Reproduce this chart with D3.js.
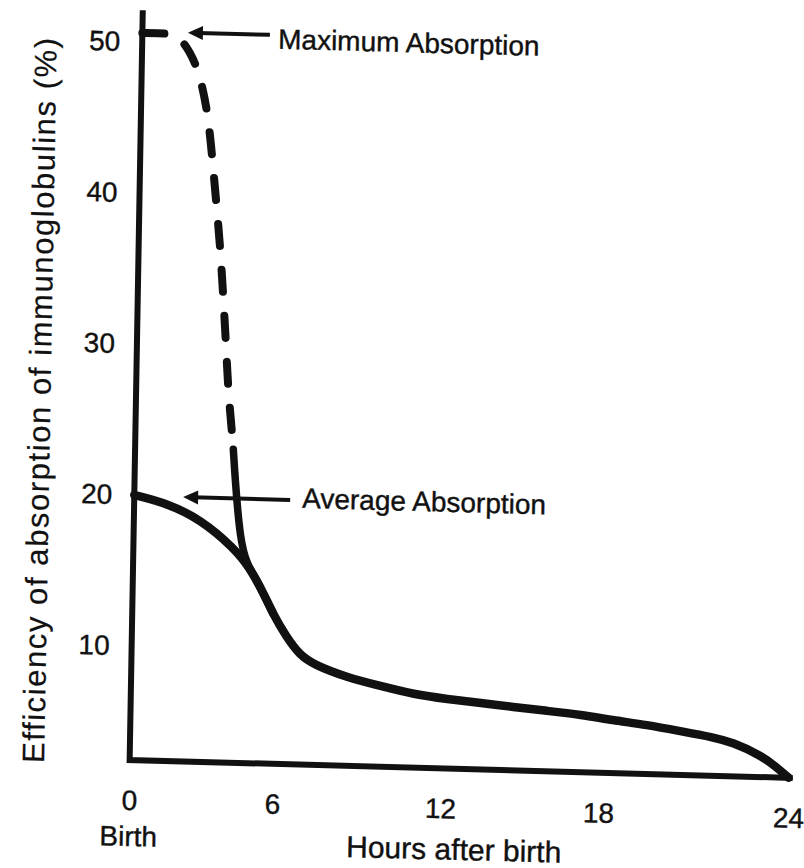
<!DOCTYPE html>
<html><head><meta charset="utf-8">
<script src="https://cdn.jsdelivr.net/npm/d3@7"></script>
<style>
body{margin:0;background:#fff}
text{font-family:"Liberation Sans",Arial,sans-serif;fill:#111;stroke:#111;stroke-width:0.4px}
</style>
</head><body>
<svg id="chart" width="804" height="868"></svg>
<script>
// ---- data ----
const xTicks = [0, 6, 12, 18, 24];
const yTicks = [10, 20, 30, 40, 50];

const avgHours  = [0, 1.4, 2.8, 4.2, 4.9, 5.5, 5.9, 6.4, 6.9, 7.4, 8.6, 9.8, 11.0, 12.2, 13.5, 14.7, 16.0, 17.3, 18.4, 19.5, 20.55, 21.6, 22.2, 23.1, 23.6, 24];
const avgValues = [20, 19.5, 18.5, 16.7, 15.4, 13.7, 12.4, 10.9, 9.7, 9.1, 8.3, 7.8, 7.3, 7.05, 6.85, 6.65, 6.45, 6.25, 5.95, 5.7, 5.35, 5.0, 4.7, 3.9, 3.15, 2.45];

const maxHours  = [0, 1.0, 1.5, 2.3, 2.77, 3.0, 3.21, 3.42, 3.57, 3.73, 3.85, 4.05, 4.12, 4.22, 4.47, 4.78, 5.2, 5.9];
const maxValues = [50.6, 50.6, 50.6, 48.8, 45.8, 42.8, 39.7, 36.6, 33.6, 30.3, 27.3, 24.3, 23.2, 21.2, 17.2, 15.6, 14.6, 12.4];
const dashEndHour = 4.12;   // max curve is dashed up to here, solid after

const axisBaseValue = 2.45, axisTopValue = 52.1;

const annotationTexts = ["Maximum Absorption", "Average Absorption"];
const arrowTipHours = [1.91, 2.05];
const arrowEndHours = [5.35, 6.46];
const arrowValues   = [50.7, 19.95];
const labelHours    = [5.7, 6.89];
const labelValues   = [49.8, 19.45];

// ---- chart ----
const svg = d3.select("#chart");
const ink = "#111";
const fontFamily = '"Liberation Sans",Arial,sans-serif';

// hand-drawn axis: tick marks are unevenly spaced
const x = d3.scaleLinear().domain(xTicks).range([0, 143, 311, 469, 659]);
const y = d3.scaleLinear().domain([0, 50]).range([0, -755]);

// scanned figure is slightly skewed
const g = svg.append("g").attr("transform", "matrix(1,0.027,-0.0175,1,129,797)");

// axes lines
g.append("path")
  .attr("d", `M${x(0)},${y(axisTopValue)}L${x(0)},${y(axisBaseValue)}L${x(24) + 4},${y(axisBaseValue)}`)
  .attr("fill", "none").attr("stroke", ink).attr("stroke-width", 6)
  .attr("stroke-linejoin", "miter");

// y tick labels
const yAxisG = g.append("g")
  .call(d3.axisLeft(y).tickValues(yTicks).tickSize(0).tickPadding(22));
yAxisG.select(".domain").remove();
yAxisG.attr("font-size", 28).attr("font-family", fontFamily);
yAxisG.selectAll("text").attr("fill", ink);

// x tick labels
const xAxisG = g.append("g")
  .attr("transform", `translate(0,${y(axisBaseValue)})`)
  .call(d3.axisBottom(x).tickValues(xTicks).tickSize(0).tickPadding(30));
xAxisG.select(".domain").remove();
xAxisG.attr("font-size", 28).attr("font-family", fontFamily);
xAxisG.selectAll("text").attr("fill", ink);

g.append("text")
  .attr("x", x(0)).attr("y", y(axisBaseValue) + 86)
  .attr("text-anchor", "middle").attr("font-size", 28)
  .text("Birth");

g.append("text")
  .attr("x", (x(0) + x(24)) / 2 - 4).attr("y", y(axisBaseValue) + 91)
  .attr("text-anchor", "middle").attr("font-size", 30)
  .text("Hours after birth");

g.append("text")
  .attr("transform", "translate(-96,-394) rotate(-90)")
  .attr("text-anchor", "middle").attr("dominant-baseline", "central")
  .attr("font-size", 31).attr("textLength", 725).attr("lengthAdjust", "spacing")
  .style("stroke-width", "0.2px")
  .text("Efficiency of absorption of immunoglobulins (%)");

// curves
const line = d3.line().x(d => x(d[0])).y(d => y(d[1])).curve(d3.curveBasis);
const avgData = avgHours.map((h, i) => [h, avgValues[i]]);
const maxData = maxHours.map((h, i) => [h, maxValues[i]]);

g.append("path").datum(avgData)
  .attr("d", line).attr("fill", "none").attr("stroke", ink)
  .attr("stroke-width", 8.5).attr("stroke-linecap", "round");

g.append("path").datum(maxData.filter(d => d[0] <= dashEndHour))
  .attr("d", line).attr("fill", "none").attr("stroke", ink)
  .attr("stroke-width", 8).attr("stroke-linecap", "round")
  .attr("stroke-dasharray", "22,24");

g.append("path").datum(maxData.filter(d => d[0] >= dashEndHour))
  .attr("d", line).attr("fill", "none").attr("stroke", ink)
  .attr("stroke-width", 7.5).attr("stroke-linecap", "round");

// annotations
annotationTexts.forEach((t, i) => {
  const tx = x(arrowTipHours[i]), ty = y(arrowValues[i]);
  g.append("line")
    .attr("x1", tx + 10).attr("y1", ty)
    .attr("x2", x(arrowEndHours[i])).attr("y2", ty)
    .attr("stroke", ink).attr("stroke-width", 4);
  g.append("path")
    .attr("d", `M${tx},${ty}L${tx + 15},${ty - 7}L${tx + 15},${ty + 7}Z`)
    .attr("fill", ink);
  g.append("text")
    .attr("x", x(labelHours[i])).attr("y", y(labelValues[i]))
    .attr("font-size", 28)
    .text(t);
});
</script>
</body></html>
